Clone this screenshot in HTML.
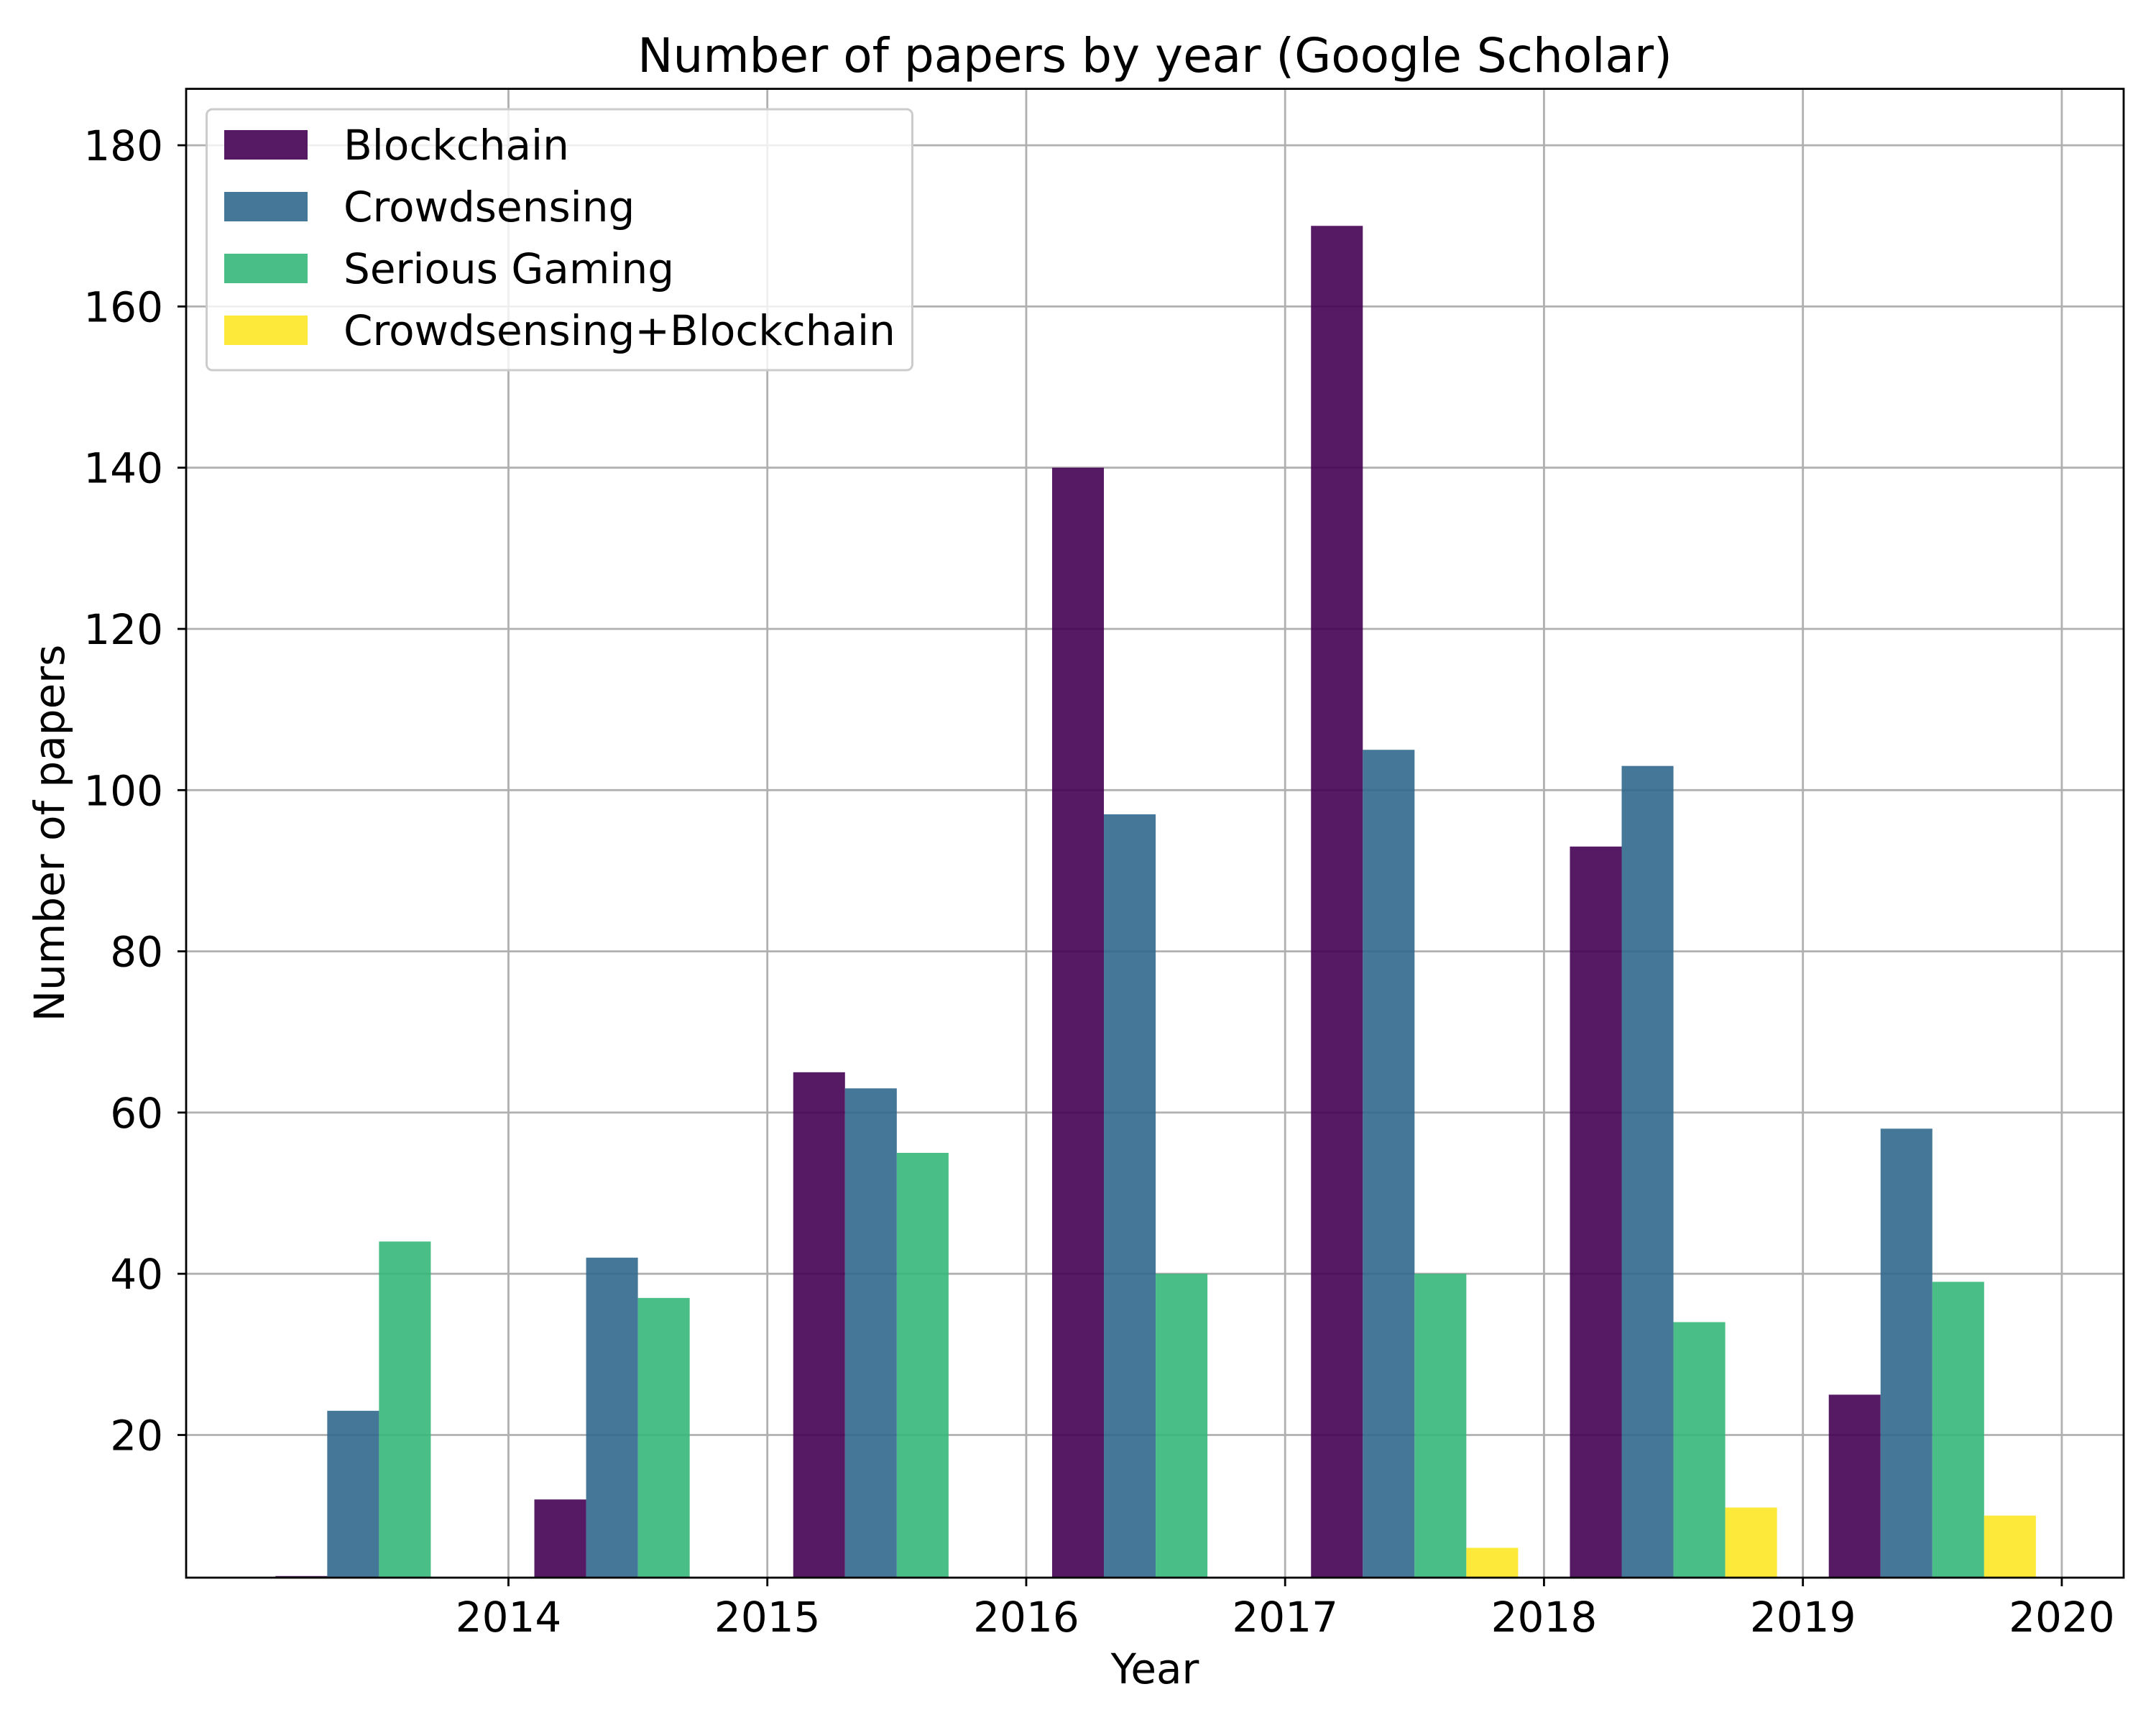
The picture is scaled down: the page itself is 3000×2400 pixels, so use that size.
<!DOCTYPE html>
<html><head><meta charset="utf-8"><style>
html,body{margin:0;padding:0;background:#fff;}
svg{display:block;font-family:"DejaVu Sans","Liberation Sans",sans-serif;}
</style></head><body>
<svg id="chart" width="3000" height="2400" viewBox="0 0 3000 2400" xmlns="http://www.w3.org/2000/svg">
<rect width="3000" height="2400" fill="#fff"/>
<g id="grid"></g><g id="bars"></g><g id="axes"></g><g id="legend"></g>
<text x="1607" y="100" font-size="66" text-anchor="middle">Number of papers by year (Google Scholar)</text>
<text x="1607" y="2342" font-size="58" text-anchor="middle">Year</text>
<text x="0" y="0" font-size="58" text-anchor="middle" transform="translate(89,1159) rotate(-90)">Number of papers</text>
</svg>
<script>
const years = [2013, 2014, 2015, 2016, 2017, 2018, 2019];
const seriesNames = ["Blockchain", "Crowdsensing", "Serious Gaming", "Crowdsensing+Blockchain"];
const blockchain = [2.5, 12, 65, 140, 170, 93, 25];
const crowdsensing = [23, 42, 63, 97, 105, 103, 58];
const seriousGaming = [44, 37, 55, 40, 40, 34, 39];
const crowdBlock = [0, 0, 0, 0, 6, 11, 10];
const xTicks = [2014, 2015, 2016, 2017, 2018, 2019, 2020];
const yTicks = [20, 40, 60, 80, 100, 120, 140, 160, 180];

const colors = ["#440154", "#31688e", "#35b779", "#fde725"];
const series = [blockchain, crowdsensing, seriousGaming, crowdBlock];
const L = 259, R = 2955, T = 123.6, B = 2195;
const xMin = 2012.755, xMax = 2020.239, yMin = 2.3, yMax = 187;
const X = v => L + (v - xMin) / (xMax - xMin) * (R - L);
const Y = v => B - (v - yMin) / (yMax - yMin) * (B - T);
const NS = "http://www.w3.org/2000/svg";
function mk(tag, attrs, parent) {
  const e = document.createElementNS(NS, tag);
  for (const k in attrs) e.setAttribute(k, attrs[k]);
  parent.appendChild(e); return e;
}
const grid = document.getElementById("grid"), bars = document.getElementById("bars"),
      axes = document.getElementById("axes"), legend = document.getElementById("legend");
xTicks.forEach(t => {
  const l = mk("line", {x1: X(t), x2: X(t), y1: T, y2: B, stroke: "#b0b0b0", "stroke-width": 2.8}, grid);
  
  
  const tk = mk("line", {x1: X(t), x2: X(t), y1: B, y2: B + 12, stroke: "#000", "stroke-width": 2.8}, axes);
  
  
  const tx = mk("text", {x: X(t), y: 2270, "font-size": 58, "text-anchor": "middle"}, axes);
  tx.textContent = t;
  
  
});
yTicks.forEach(t => {
  const l = mk("line", {x1: L, x2: R, y1: Y(t), y2: Y(t), stroke: "#b0b0b0", "stroke-width": 2.8}, grid);
  
  
  const tk = mk("line", {x1: L - 12, x2: L, y1: Y(t), y2: Y(t), stroke: "#000", "stroke-width": 2.8}, axes);
  
  
  const tx = mk("text", {x: 227, y: Y(t) + 21, "font-size": 58, "text-anchor": "end"}, axes);
  tx.textContent = t;
  
  
});
series.forEach((vals, s) => {
  vals.forEach((v, i) => {
    if (v <= 0) return;
    const x0 = X(years[i] + 0.1 + 0.2 * s), x1 = X(years[i] + 0.3 + 0.2 * s);
    const top = Y(v);
    const r = mk("rect", {x: x0, y: Math.min(top, B), width: x1 - x0, height: Math.max(0, B - top), fill: colors[s], "fill-opacity": 0.9}, bars);
    
    
  });
});
const frame = mk("rect", {x: L, y: T, width: R - L, height: B - T, fill: "none", stroke: "#000", "stroke-width": 2.8}, axes);


const lb = mk("rect", {x: 287.5, y: 152, width: 982, height: 363, rx: 8, fill: "#fff", "fill-opacity": 0.8, stroke: "#cccccc", "stroke-width": 3}, legend);


seriesNames.forEach((n, s) => {
  const y0 = 181 + 86 * s;
  const p = mk("rect", {x: 312, y: y0, width: 116, height: 41, fill: colors[s], "fill-opacity": 0.9}, legend);
  
  
  const t = mk("text", {x: 478, y: y0 + 41, "font-size": 58}, legend);
  t.textContent = n;
  
  
});
</script>
</body></html>
